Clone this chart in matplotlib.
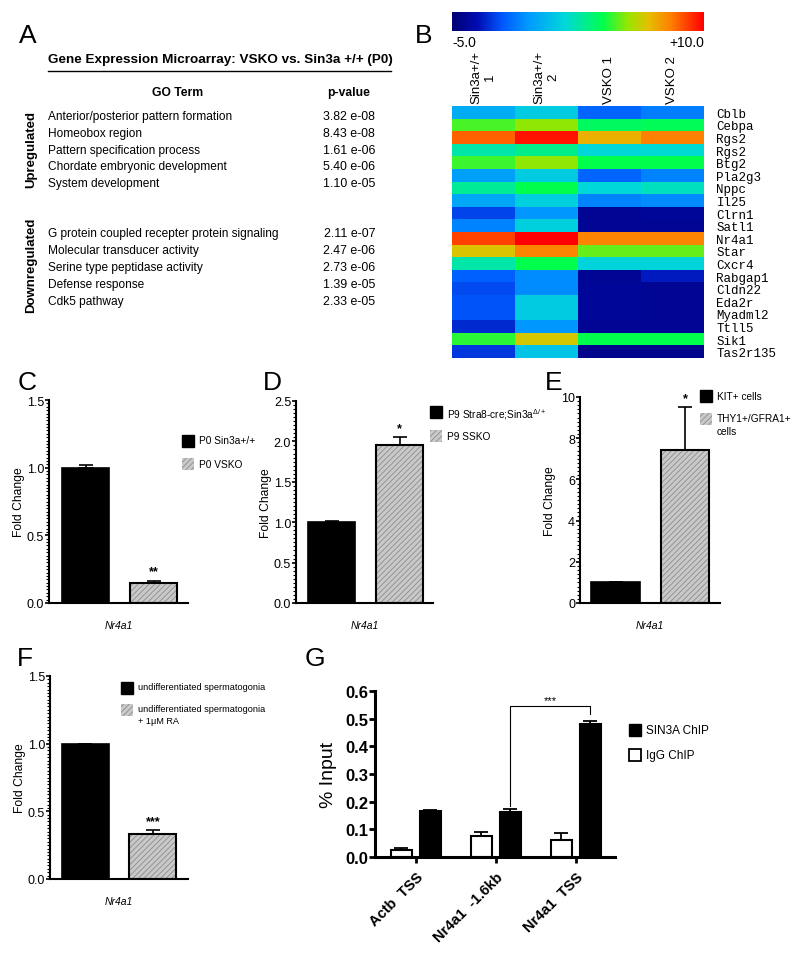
import numpy as np
import matplotlib
matplotlib.use('Agg')
import matplotlib.pyplot as plt
from matplotlib.colors import LinearSegmentedColormap
from matplotlib.patches import Rectangle
from matplotlib.ticker import MultipleLocator

plt.rcParams['font.family'] = ['Liberation Sans', 'DejaVu Sans']
plt.rcParams['mathtext.default'] = 'regular'
plt.rcParams['hatch.linewidth'] = 0.6

W, H = 800, 978

# --- A: GO terms
up_terms = ['Anterior/posterior pattern formation', 'Homeobox region',
            'Pattern specification process', 'Chordate embryonic development',
            'System development']
up_pvals = ['3.82 e-08', '8.43 e-08', '1.61 e-06', '5.40 e-06', '1.10 e-05']
down_terms = ['G protein coupled recepter protein signaling',
              'Molecular transducer activity', 'Serine type peptidase activity',
              'Defense response', 'Cdk5 pathway']
down_pvals = ['2.11 e-07', '2.47 e-06', '2.73 e-06', '1.39 e-05', '2.33 e-05']

# --- B: microarray heatmap
samples = ['Sin3a+/+\n1', 'Sin3a+/+\n2', 'VSKO 1', 'VSKO 2']
genes = ['Cblb', 'Cebpa', 'Rgs2', 'Rgs2', 'Btg2', 'Pla2g3', 'Nppc', 'Il25',
         'Clrn1', 'Satl1', 'Nr4a1', 'Star', 'Cxcr4', 'Rabgap1', 'Cldn22',
         'Eda2r', 'Myadml2', 'Ttll5', 'Sik1', 'Tas2r135']
heat = np.array([
    [0.2, 1.3, -1.7, -1.1],
    [4.7, 5.4, 3.7, 3.8],
    [8.5, 9.7, 7.0, 8.0],
    [2.5, 3.0, 1.7, 1.8],
    [4.6, 5.4, 4.0, 4.0],
    [-0.2, 1.3, -1.7, -1.0],
    [2.8, 4.0, 1.7, 2.2],
    [0.0, 1.4, -1.0, -0.8],
    [-2.4, -0.5, -4.2, -4.1],
    [-1.0, 1.4, -4.2, -4.2],
    [9.0, 10.0, 7.9, 7.9],
    [6.5, 7.9, 5.0, 5.0],
    [2.5, 4.0, 1.6, 1.6],
    [-1.8, -0.8, -4.2, -3.2],
    [-2.3, -0.8, -4.1, -4.2],
    [-2.1, 1.3, -4.1, -4.2],
    [-2.1, 1.3, -4.1, -4.2],
    [-2.9, -0.5, -4.2, -4.2],
    [4.4, 6.4, 4.0, 4.0],
    [-2.6, 1.0, -4.4, -4.4],
])

# --- C-F: qPCR fold change of Nr4a1
c_groups = ['P0 Sin3a+/+', 'P0 VSKO']
c_vals = [1.0, 0.15]
c_errs = [0.02, 0.015]
d_groups = ['P9 Stra8-cre;Sin3a$^{\\Delta/+}$', 'P9 SSKO']
d_vals = [1.0, 1.95]
d_errs = [0.015, 0.1]
e_groups = ['KIT+ cells', 'THY1+/GFRA1+\ncells']
e_vals = [1.0, 7.45]
e_errs = [0.0, 2.05]
f_groups = ['undifferentiated spermatogonia',
            'undifferentiated spermatogonia\n+ 1\u03bcM RA']
f_vals = [1.0, 0.33]
f_errs = [0.0, 0.03]

# --- G: ChIP
g_sites = ['Actb  TSS', 'Nr4a1  -1.6kb', 'Nr4a1  TSS']
g_igg = [0.025, 0.075, 0.063]
g_igg_err = [0.008, 0.015, 0.022]
g_sin3a = [0.165, 0.163, 0.48]
g_sin3a_err = [0.004, 0.012, 0.012]

GRAY = '#c9c9c9'
HATCH_C = '#8c8c8c'

fig = plt.figure(figsize=(8, 9.78), dpi=100)


def rect(x0, y0, x1, y1):
    return [x0 / W, 1 - y1 / H, (x1 - x0) / W, (y1 - y0) / H]


# overlay in pixel coords for letters, table and legends
ov = fig.add_axes([0, 0, 1, 1])
ov.set_xlim(0, W)
ov.set_ylim(H, 0)
ov.axis('off')
ov.set_zorder(10)

for s, x, y in [('A', 28, 36), ('B', 424, 36), ('C', 27, 383), ('D', 272, 383),
                ('E', 554, 383), ('F', 25, 659), ('G', 315, 659)]:
    ov.text(x, y, s, fontsize=19, ha='center', va='center')

# panel A table
ov.text(48, 63, 'Gene Expression Microarray: VSKO vs. Sin3a +/+ (P0)',
        fontsize=9.7, fontweight='bold', va='baseline')
ov.plot([48, 391], [72, 72], color='black', lw=1)
ov.text(178, 93, 'GO Term', fontsize=8.7, fontweight='bold', ha='center', va='center')
ov.text(349, 93, 'p-value', fontsize=8.7, fontweight='bold', ha='center', va='center')
for i, (t, p) in enumerate(zip(up_terms, up_pvals)):
    y = 117 + i * 16.8
    ov.text(48, y, t, fontsize=8.6, va='center')
    ov.text(375, y, p, fontsize=8.9, va='center', ha='right')
for i, (t, p) in enumerate(zip(down_terms, down_pvals)):
    y = 234 + i * 17
    ov.text(48, y, t, fontsize=8.6, va='center')
    ov.text(375, y, p, fontsize=8.9, va='center', ha='right')
ov.text(31, 150, 'Upregulated', fontsize=9.5, fontweight='bold', rotation=90,
        ha='center', va='center')
ov.text(31, 265, 'Downregulated', fontsize=9.5, fontweight='bold', rotation=90,
        ha='center', va='center')

# panel B heatmap
cmap = LinearSegmentedColormap.from_list('arr', [
    (0.0, (0.0, 0.0, 0.45)), (0.1, (0.0, 0.05, 0.7)), (0.2, (0.0, 0.35, 1.0)),
    (0.3, (0.0, 0.6, 1.0)), (0.45, (0.0, 0.85, 0.85)), (0.6, (0.0, 1.0, 0.3)),
    (0.7, (0.6, 0.9, 0.0)), (0.78, (0.9, 0.75, 0.0)), (0.87, (1.0, 0.5, 0.0)),
    (1.0, (1.0, 0.0, 0.0))])

hx = fig.add_axes(rect(452, 107, 704, 359))
hx.imshow(heat, cmap=cmap, vmin=-5, vmax=10, aspect='auto', interpolation='nearest')
hx.set_xticks(range(len(samples)))
hx.set_xticklabels(samples, rotation=90, fontsize=9.5, multialignment='center')
hx.xaxis.tick_top()
hx.set_yticks(range(len(genes)))
hx.set_yticklabels(genes, family='Liberation Mono', fontsize=9)
hx.yaxis.tick_right()
hx.tick_params(length=0)
hx.tick_params(axis='x', pad=2)
hx.tick_params(axis='y', pad=9)
for sp in hx.spines.values():
    sp.set_visible(False)

cb = fig.add_axes(rect(452, 13, 704, 32))
cb.imshow(np.linspace(-5, 10, 256)[None, :], cmap=cmap, vmin=-5, vmax=10,
          aspect='auto', extent=[-5, 10, 0, 1])
cb.set_xticks([])
cb.set_yticks([])
for sp in cb.spines.values():
    sp.set_visible(False)
ov.text(452, 43, '-5.0', fontsize=10, va='center', ha='left')
ov.text(704, 43, '+10.0', fontsize=10, va='center', ha='right')


def swatch(x, y, kind, label, fs=7.3):
    if kind == 'black':
        ov.add_patch(Rectangle((x, y - 6), 12, 12, facecolor='black', edgecolor='black'))
    elif kind == 'hatch':
        ov.add_patch(Rectangle((x, y - 6), 12, 12, facecolor=GRAY, hatch='//////',
                               edgecolor=HATCH_C, lw=0))
    else:
        ov.add_patch(Rectangle((x, y - 6), 12, 12, facecolor='white',
                               edgecolor='black', lw=1.3))
    ov.text(x + 17, y - 5.5, label, fontsize=fs, va='top', linespacing=1.3)


def fold_panel(box, vals, errs, ymax, major, minor, stars, xlim, fmt):
    ax = fig.add_axes(rect(*box))
    x = np.arange(len(vals))
    w = 0.69
    ax.bar(x[0], vals[0], w, color='black', edgecolor='black', lw=1.2)
    ax.bar(x[1], vals[1], w, color=GRAY, hatch='//////', edgecolor=HATCH_C, lw=0)
    ax.bar(x[1], vals[1], w, fill=False, edgecolor='black', lw=1.5)
    ax.errorbar(x, vals, yerr=[np.zeros(len(vals)), errs], fmt='none', ecolor='black',
                elinewidth=1.2, capsize=5, capthick=1.2)
    ax.text(x[1], vals[1] + errs[1] + 0.015 * ymax, stars, ha='center', va='bottom',
            fontsize=9, fontweight='bold')
    ax.set_ylim(0, ymax)
    ax.set_xlim(*xlim)
    ax.yaxis.set_major_locator(MultipleLocator(major))
    ax.yaxis.set_minor_locator(MultipleLocator(minor))
    ax.yaxis.set_major_formatter(plt.FormatStrFormatter(fmt))
    ax.set_xticks([])
    for side in ('top', 'right'):
        ax.spines[side].set_visible(False)
    for side in ('left', 'bottom'):
        ax.spines[side].set_linewidth(1.5)
    ax.tick_params(axis='y', which='major', length=3, width=1.2, labelsize=9, pad=0.5)
    ax.tick_params(axis='y', which='minor', length=2, width=0.8)
    ax.set_ylabel('Fold Change', fontsize=8.7)
    ax.yaxis.set_label_coords(-24 / (box[2] - box[0]), 0.5)
    ax.set_xlabel('Nr4a1', fontsize=7.5, style='italic', labelpad=12)
    return ax


fold_panel((49, 401, 188, 604), c_vals, c_errs, 1.5, 0.5, 0.025, '**',
           (-0.537, 1.507), '%.1f')
fold_panel((296, 402, 433, 604), d_vals, d_errs, 2.5, 0.5, 0.05, '*',
           (-0.522, 1.49), '%.1f')
fold_panel((580, 398, 720, 604), e_vals, e_errs, 10, 2, 0.2, '*',
           (-0.51, 1.50), '%d')
fold_panel((50, 677, 188, 880), f_vals, f_errs, 1.5, 0.5, 0.025, '***',
           (-0.52, 1.52), '%.1f')

swatch(182, 442, 'black', c_groups[0])
swatch(182, 465, 'hatch', c_groups[1])
swatch(430, 413, 'black', d_groups[0])
swatch(430, 437, 'hatch', d_groups[1])
swatch(700, 397, 'black', e_groups[0])
swatch(700, 420, 'hatch', e_groups[1])
swatch(121, 689, 'black', f_groups[0], fs=6.6)
swatch(121, 711, 'hatch', f_groups[1], fs=6.6)

# panel G
gx = fig.add_axes(rect(375, 692, 615, 858))
x = np.arange(len(g_sites))
off, bw = 0.18, 0.26
gx.bar(x - off, g_igg, bw, color='white', edgecolor='black', lw=1.5)
gx.bar(x + off, g_sin3a, bw, color='black', edgecolor='black', lw=1.5)
gx.errorbar(x - off, g_igg, yerr=[np.zeros(3), g_igg_err], fmt='none', ecolor='black',
            elinewidth=1.3, capsize=5, capthick=1.3)
gx.errorbar(x + off, g_sin3a, yerr=[np.zeros(3), g_sin3a_err], fmt='none', ecolor='black',
            elinewidth=1.3, capsize=5, capthick=1.3)
bl, br = x[1] + off, x[2] + off
top = 0.546
gx.plot([bl, bl, br, br],
        [g_sin3a[1] + g_sin3a_err[1] + 0.01, top, top, g_sin3a[2] + g_sin3a_err[2] + 0.025],
        color='black', lw=0.8)
gx.text((bl + br) / 2, top + 0.004, '***', ha='center', va='bottom', fontsize=8)
gx.set_ylim(0, 0.6)
gx.set_xlim(-0.51, 2.49)
gx.yaxis.set_major_locator(MultipleLocator(0.1))
gx.yaxis.set_major_formatter(plt.FormatStrFormatter('%.1f'))
gx.set_xticks(x)
gx.set_xticklabels(g_sites, rotation=45, ha='right', rotation_mode='anchor',
                   fontsize=10.5, fontweight='bold')
gx.tick_params(axis='both', length=4, width=2)
gx.tick_params(axis='y', labelsize=12, pad=1)
gx.tick_params(axis='x', labelsize=10.5, pad=5)
for lab in gx.get_yticklabels():
    lab.set_fontweight('bold')
for side in ('top', 'right'):
    gx.spines[side].set_visible(False)
for side in ('left', 'bottom'):
    gx.spines[side].set_linewidth(2.2)
gx.set_ylabel('% Input', fontsize=14, labelpad=6)

swatch(629, 731, 'black', 'SIN3A ChIP', fs=8.5)
swatch(629, 756, 'open', 'IgG ChIP', fs=8.5)

fig.savefig('out.png', dpi=100)
